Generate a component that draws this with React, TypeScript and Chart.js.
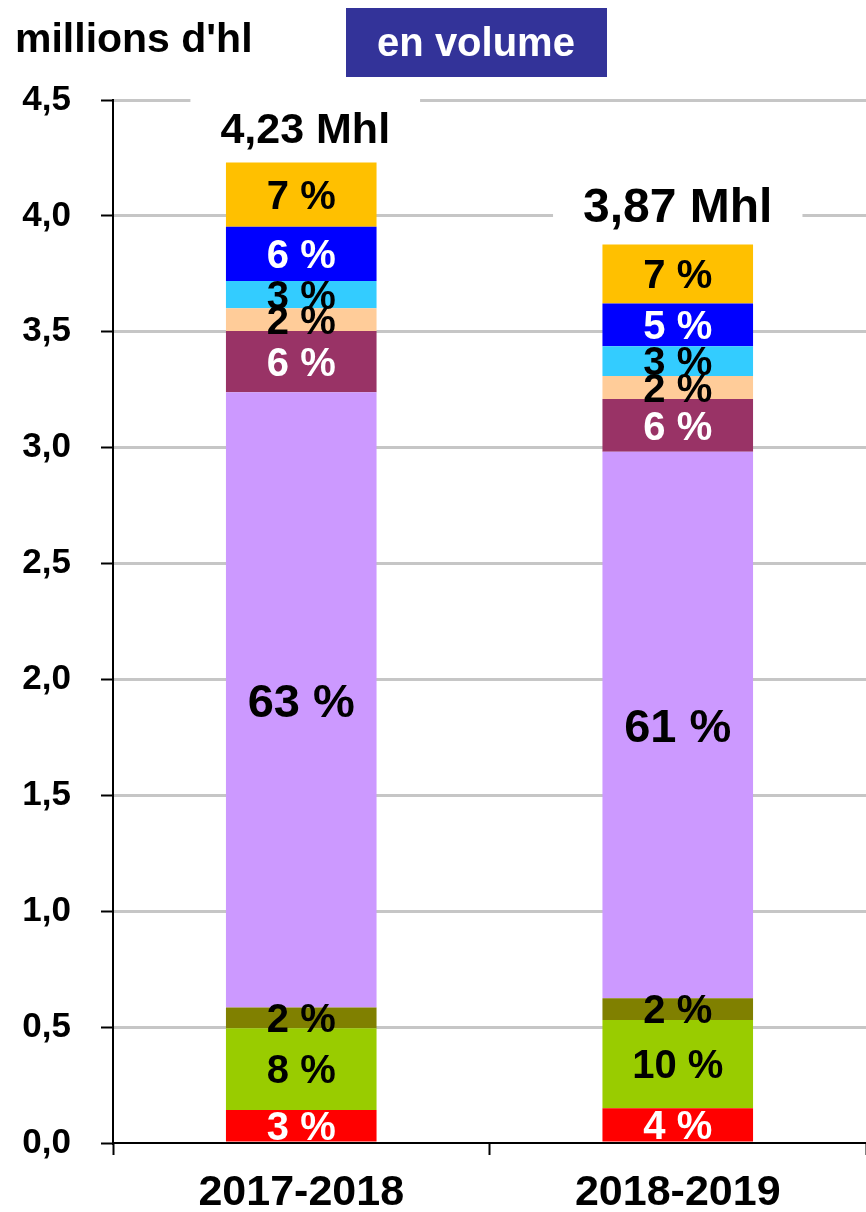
import React, { useEffect, useRef } from 'react';
import { Chart, registerables } from 'chart.js';

Chart.register(...registerables);

// ---- data ----
const categories = ['2017-2018', '2018-2019'];
const yTickValues = [0, 0.5, 1, 1.5, 2, 2.5, 3, 3.5, 4, 4.5];
const totals = [4.23, 3.87];
const totalLabels = ['4,23 Mhl', '3,87 Mhl'];
const unitLabel = "millions d'hl";
const badgeLabel = 'en volume';

// stacked segments, bottom to top (millions d'hl)
const segRed = [0.142, 0.150];
const segGreen = [0.353, 0.381];
const segOlive = [0.090, 0.093];
const segLilac = [2.654, 2.358];
const segMaroon = [0.264, 0.228];
const segPeach = [0.098, 0.099];
const segCyan = [0.118, 0.129];
const segBlue = [0.234, 0.184];
const segOrange = [0.277, 0.255];

const pctRed = ['3 %', '4 %'];
const pctGreen = ['8 %', '10 %'];
const pctOlive = ['2 %', '2 %'];
const pctLilac = ['63 %', '61 %'];
const pctMaroon = ['6 %', '6 %'];
const pctPeach = ['2 %', '2 %'];
const pctCyan = ['3 %', '3 %'];
const pctBlue = ['6 %', '5 %'];
const pctOrange = ['7 %', '7 %'];

const FONT = '"Liberation Sans", Arial, sans-serif';

const overlayPlugin = {
  id: 'overlay',
  afterDatasetsDraw(chart: any) {
    const ctx = chart.ctx as CanvasRenderingContext2D;
    ctx.save();
    // segment percentage labels
    chart.data.datasets.forEach((ds: any, di: number) => {
      const meta = chart.getDatasetMeta(di);
      meta.data.forEach((bar: any, i: number) => {
        const p = bar.getProps(['x', 'y', 'base'], true);
        const cy = (p.y + p.base) / 2;
        const size = ds._labelSize;
        ctx.font = `bold ${size}px ${FONT}`;
        ctx.fillStyle = ds._labelColor;
        ctx.textAlign = 'center';
        ctx.textBaseline = 'alphabetic';
        ctx.fillText(ds._pct[i], p.x, cy + size * 0.358);
      });
    });
    // totals with white boxes
    const yScale = chart.scales.y;
    const xScale = chart.scales.x;
    const totalSizes = [43, 48];
    const totalOffsets = [35, 41];
    totals.forEach((t, i) => {
      const x = xScale.getPixelForValue(i) + (i === 0 ? 4 : 0);
      const cy = yScale.getPixelForValue(t) - totalOffsets[i];
      const size = totalSizes[i];
      ctx.font = `bold ${size}px ${FONT}`;
      const w = ctx.measureText(totalLabels[i]).width + 60;
      ctx.fillStyle = '#ffffff';
      ctx.fillRect(x - w / 2, cy - 34, w, 60);
      ctx.fillStyle = '#000000';
      ctx.textAlign = 'center';
      ctx.textBaseline = 'alphabetic';
      ctx.fillText(totalLabels[i], x, cy + size * 0.358);
    });
    // unit label
    ctx.font = `bold 41px ${FONT}`;
    ctx.fillStyle = '#000000';
    ctx.textAlign = 'left';
    ctx.fillText(unitLabel, 15, 52);
    // badge
    ctx.fillStyle = '#333399';
    ctx.fillRect(346, 8, 261, 69);
    ctx.font = `bold 40px ${FONT}`;
    ctx.fillStyle = '#ffffff';
    ctx.textAlign = 'center';
    ctx.fillText(badgeLabel, 476, 56);
    ctx.restore();
  },
};

export default function App() {
  const ref = useRef<HTMLCanvasElement | null>(null);
  useEffect(() => {
    if (!ref.current) return;
    const mk = (data: number[], color: string, pct: string[], labelColor: string, size = 40) => ({
      data,
      backgroundColor: color,
      borderWidth: 0,
      _pct: pct,
      _labelColor: labelColor,
      _labelSize: size,
    });
    const chart = new Chart(ref.current, {
      type: 'bar',
      data: {
        labels: categories,
        datasets: [
          mk(segRed, '#FF0000', pctRed, '#ffffff'),
          mk(segGreen, '#99CC00', pctGreen, '#000000'),
          mk(segOlive, '#808000', pctOlive, '#000000'),
          mk(segLilac, '#CC99FF', pctLilac, '#000000', 47),
          mk(segMaroon, '#993366', pctMaroon, '#ffffff'),
          mk(segPeach, '#FFCC99', pctPeach, '#000000'),
          mk(segCyan, '#33CCFF', pctCyan, '#000000'),
          mk(segBlue, '#0000FF', pctBlue, '#ffffff'),
          mk(segOrange, '#FFC000', pctOrange, '#000000'),
        ] as any,
      },
      options: {
        animation: false,
        responsive: false,
        devicePixelRatio: 1,
        layout: { padding: { top: 100, left: 0, right: 0, bottom: 0 } },
        plugins: { legend: { display: false }, tooltip: { enabled: false } },
        datasets: { bar: { categoryPercentage: 1, barPercentage: 0.4 } },
        scales: {
          x: {
            stacked: true,
            afterFit: (s: any) => { s.height = 69; },
            grid: {
              display: true,
              drawOnChartArea: false,
              drawTicks: true,
              tickLength: 12,
              tickColor: '#000000',
              tickWidth: 2,
              offset: true,
            },
            border: { display: true, color: '#000000', width: 2 },
            ticks: {
              color: '#000000',
              padding: 12,
              font: { family: FONT, size: 43, weight: 'bold' },
            },
          },
          y: {
            stacked: true,
            min: 0,
            max: 4.5,
            afterFit: (s: any) => { s.width = 113; },
            afterBuildTicks: (s: any) => { s.ticks = yTickValues.map((v) => ({ value: v })); },
            grid: {
              color: (c: any) => (c.tick && c.tick.value === 0 ? 'rgba(0,0,0,0)' : '#c6c6c6'),
              lineWidth: 3,
              drawTicks: true,
              tickLength: 12,
              tickColor: '#000000',
              tickWidth: 2,
            },
            border: { display: true, color: '#000000', width: 2 },
            ticks: {
              color: '#000000',
              padding: 30,
              font: { family: FONT, size: 35, weight: 'bold' },
              callback: (v: any) => Number(v).toFixed(1).replace('.', ','),
            },
          },
        },
      } as any,
      plugins: [overlayPlugin],
    });
    return () => chart.destroy();
  }, []);
  return (
    <div style={{ position: 'absolute', left: 0, top: 0, width: 866, height: 1212, background: '#fff' }}>
      <canvas ref={ref} width={866} height={1212} />
    </div>
  );
}
